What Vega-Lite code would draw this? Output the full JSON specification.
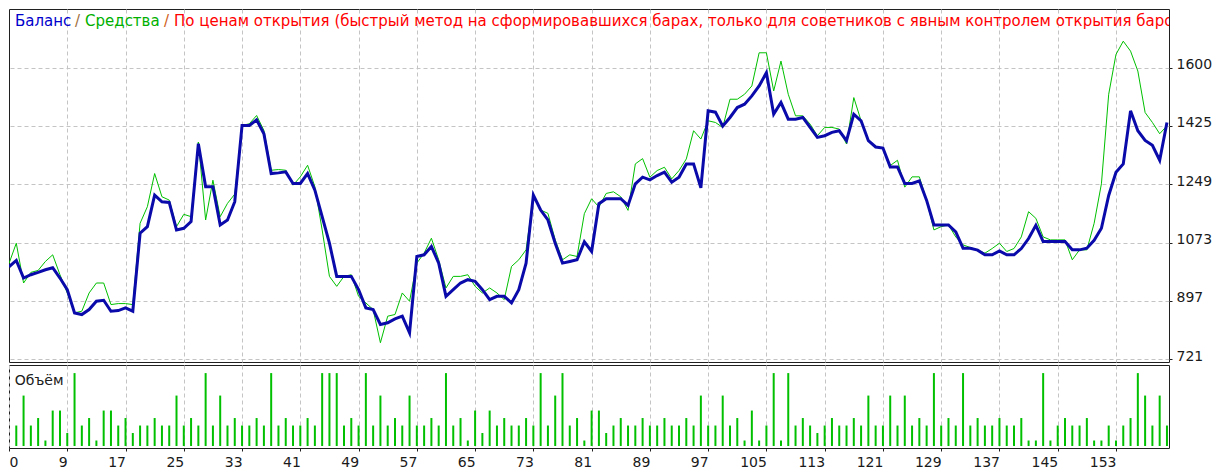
{
 "$schema": "https://vega.github.io/schema/vega-lite/v6.json",
 "background": "white",
 "padding": {"left": 8, "top": 8, "right": 0, "bottom": 0},
 "spacing": 3,
 "bounds": "flush",
 "config": {
  "font": "DejaVu Sans",
  "view": {"stroke": "#202020", "strokeWidth": 1}
 },
 "datasets": {
  "trades": [
   {"trade":1,"balance":1000,"equity":1010},
   {"trade":2,"balance":1019,"equity":1071,"volume":3},
   {"trade":3,"balance":966,"equity":951,"volume":7},
   {"trade":4,"balance":976,"equity":983,"volume":3},
   {"trade":5,"balance":983,"equity":989,"volume":4},
   {"trade":6,"balance":991,"equity":1016,"volume":1},
   {"trade":7,"balance":997,"equity":1036,"volume":5},
   {"trade":8,"balance":966,"equity":976,"volume":5},
   {"trade":9,"balance":931,"equity":921,"volume":2},
   {"trade":10,"balance":861,"equity":861,"volume":10},
   {"trade":11,"balance":856,"equity":866,"volume":3},
   {"trade":12,"balance":871,"equity":921,"volume":4},
   {"trade":13,"balance":896,"equity":951,"volume":1},
   {"trade":14,"balance":899,"equity":951,"volume":5},
   {"trade":15,"balance":866,"equity":886,"volume":5},
   {"trade":16,"balance":868,"equity":889,"volume":3},
   {"trade":17,"balance":876,"equity":889,"volume":4},
   {"trade":18,"balance":866,"equity":886,"volume":2},
   {"trade":19,"balance":1101,"equity":1131,"volume":3},
   {"trade":20,"balance":1121,"equity":1181,"volume":3},
   {"trade":21,"balance":1216,"equity":1281,"volume":4},
   {"trade":22,"balance":1196,"equity":1211,"volume":3},
   {"trade":23,"balance":1194,"equity":1201,"volume":3},
   {"trade":24,"balance":1111,"equity":1121,"volume":7},
   {"trade":25,"balance":1116,"equity":1158,"volume":3},
   {"trade":26,"balance":1136,"equity":1151,"volume":4},
   {"trade":27,"balance":1371,"equity":1376,"volume":3},
   {"trade":28,"balance":1241,"equity":1141,"volume":10},
   {"trade":29,"balance":1241,"equity":1261,"volume":3},
   {"trade":30,"balance":1126,"equity":1151,"volume":7},
   {"trade":31,"balance":1141,"equity":1191,"volume":3},
   {"trade":32,"balance":1196,"equity":1219,"volume":4},
   {"trade":33,"balance":1426,"equity":1426,"volume":3},
   {"trade":34,"balance":1426,"equity":1431,"volume":3},
   {"trade":35,"balance":1443,"equity":1456,"volume":4},
   {"trade":36,"balance":1401,"equity":1411,"volume":3},
   {"trade":37,"balance":1281,"equity":1291,"volume":10},
   {"trade":38,"balance":1283,"equity":1293,"volume":3},
   {"trade":39,"balance":1286,"equity":1291,"volume":4},
   {"trade":40,"balance":1251,"equity":1246,"volume":3},
   {"trade":41,"balance":1251,"equity":1271,"volume":3},
   {"trade":42,"balance":1281,"equity":1306,"volume":4},
   {"trade":43,"balance":1231,"equity":1241,"volume":3},
   {"trade":44,"balance":1151,"equity":1111,"volume":10},
   {"trade":45,"balance":1071,"equity":971,"volume":10},
   {"trade":46,"balance":971,"equity":941,"volume":10},
   {"trade":47,"balance":971,"equity":971,"volume":3},
   {"trade":48,"balance":971,"equity":976,"volume":4},
   {"trade":49,"balance":931,"equity":911,"volume":3},
   {"trade":50,"balance":876,"equity":891,"volume":10},
   {"trade":51,"balance":871,"equity":871,"volume":3},
   {"trade":52,"balance":826,"equity":771,"volume":7},
   {"trade":53,"balance":831,"equity":851,"volume":3},
   {"trade":54,"balance":843,"equity":856,"volume":4},
   {"trade":55,"balance":851,"equity":921,"volume":3},
   {"trade":56,"balance":801,"equity":896,"volume":7},
   {"trade":57,"balance":1031,"equity":1011,"volume":3},
   {"trade":58,"balance":1036,"equity":1041,"volume":3},
   {"trade":59,"balance":1061,"equity":1086,"volume":4},
   {"trade":60,"balance":1011,"equity":1021,"volume":3},
   {"trade":61,"balance":911,"equity":936,"volume":10},
   {"trade":62,"balance":931,"equity":971,"volume":3},
   {"trade":63,"balance":951,"equity":971,"volume":4},
   {"trade":64,"balance":961,"equity":976,"volume":1},
   {"trade":65,"balance":956,"equity":941,"volume":5},
   {"trade":66,"balance":931,"equity":921,"volume":2},
   {"trade":67,"balance":901,"equity":936,"volume":5},
   {"trade":68,"balance":911,"equity":921,"volume":3},
   {"trade":69,"balance":911,"equity":901,"volume":4},
   {"trade":70,"balance":891,"equity":1001,"volume":3},
   {"trade":71,"balance":931,"equity":1021,"volume":3},
   {"trade":72,"balance":1011,"equity":1051,"volume":4},
   {"trade":73,"balance":1216,"equity":1211,"volume":3},
   {"trade":74,"balance":1171,"equity":1171,"volume":10},
   {"trade":75,"balance":1141,"equity":1161,"volume":3},
   {"trade":76,"balance":1071,"equity":1081,"volume":7},
   {"trade":77,"balance":1011,"equity":1021,"volume":10},
   {"trade":78,"balance":1016,"equity":1036,"volume":3},
   {"trade":79,"balance":1021,"equity":1031,"volume":4},
   {"trade":80,"balance":1075,"equity":1160,"volume":1},
   {"trade":81,"balance":1046,"equity":1205,"volume":5},
   {"trade":82,"balance":1190,"equity":1180,"volume":5},
   {"trade":83,"balance":1205,"equity":1221,"volume":2},
   {"trade":84,"balance":1205,"equity":1226,"volume":3},
   {"trade":85,"balance":1205,"equity":1211,"volume":4},
   {"trade":86,"balance":1185,"equity":1170,"volume":3},
   {"trade":87,"balance":1250,"equity":1310,"volume":3},
   {"trade":88,"balance":1270,"equity":1326,"volume":4},
   {"trade":89,"balance":1262,"equity":1270,"volume":3},
   {"trade":90,"balance":1275,"equity":1290,"volume":3},
   {"trade":91,"balance":1285,"equity":1300,"volume":4},
   {"trade":92,"balance":1255,"equity":1265,"volume":3},
   {"trade":93,"balance":1270,"equity":1290,"volume":3},
   {"trade":94,"balance":1310,"equity":1325,"volume":4},
   {"trade":95,"balance":1310,"equity":1410,"volume":3},
   {"trade":96,"balance":1238,"equity":1385,"volume":7},
   {"trade":97,"balance":1470,"equity":1440,"volume":3},
   {"trade":98,"balance":1466,"equity":1435,"volume":3},
   {"trade":99,"balance":1424,"equity":1420,"volume":7},
   {"trade":100,"balance":1450,"equity":1505,"volume":3},
   {"trade":101,"balance":1480,"equity":1505,"volume":4},
   {"trade":102,"balance":1490,"equity":1520,"volume":1},
   {"trade":103,"balance":1515,"equity":1545,"volume":5},
   {"trade":104,"balance":1545,"equity":1645,"volume":1},
   {"trade":105,"balance":1585,"equity":1645,"volume":3},
   {"trade":106,"balance":1460,"equity":1530,"volume":10},
   {"trade":107,"balance":1495,"equity":1620,"volume":1},
   {"trade":108,"balance":1445,"equity":1520,"volume":10},
   {"trade":109,"balance":1445,"equity":1455,"volume":3},
   {"trade":110,"balance":1450,"equity":1455,"volume":4},
   {"trade":111,"balance":1420,"equity":1430,"volume":3},
   {"trade":112,"balance":1390,"equity":1395,"volume":2},
   {"trade":113,"balance":1395,"equity":1420,"volume":3},
   {"trade":114,"balance":1405,"equity":1420,"volume":4},
   {"trade":115,"balance":1410,"equity":1415,"volume":3},
   {"trade":116,"balance":1380,"equity":1370,"volume":3},
   {"trade":117,"balance":1460,"equity":1510,"volume":4},
   {"trade":118,"balance":1440,"equity":1440,"volume":3},
   {"trade":119,"balance":1380,"equity":1380,"volume":7},
   {"trade":120,"balance":1361,"equity":1361,"volume":3},
   {"trade":121,"balance":1358,"equity":1358,"volume":3},
   {"trade":122,"balance":1301,"equity":1305,"volume":7},
   {"trade":123,"balance":1301,"equity":1321,"volume":3},
   {"trade":124,"balance":1251,"equity":1240,"volume":7},
   {"trade":125,"balance":1251,"equity":1271,"volume":3},
   {"trade":126,"balance":1259,"equity":1271,"volume":4},
   {"trade":127,"balance":1200,"equity":1200,"volume":3},
   {"trade":128,"balance":1126,"equity":1111,"volume":10},
   {"trade":129,"balance":1126,"equity":1121,"volume":3},
   {"trade":130,"balance":1126,"equity":1126,"volume":4},
   {"trade":131,"balance":1105,"equity":1090,"volume":3},
   {"trade":132,"balance":1056,"equity":1066,"volume":10},
   {"trade":133,"balance":1056,"equity":1058,"volume":3},
   {"trade":134,"balance":1050,"equity":1050,"volume":4},
   {"trade":135,"balance":1036,"equity":1041,"volume":3},
   {"trade":136,"balance":1036,"equity":1055,"volume":3},
   {"trade":137,"balance":1048,"equity":1071,"volume":4},
   {"trade":138,"balance":1036,"equity":1046,"volume":3},
   {"trade":139,"balance":1036,"equity":1055,"volume":3},
   {"trade":140,"balance":1055,"equity":1090,"volume":4},
   {"trade":141,"balance":1085,"equity":1166,"volume":1},
   {"trade":142,"balance":1125,"equity":1146,"volume":1},
   {"trade":143,"balance":1076,"equity":1090,"volume":10},
   {"trade":144,"balance":1076,"equity":1081,"volume":1},
   {"trade":145,"balance":1076,"equity":1081,"volume":3},
   {"trade":146,"balance":1076,"equity":1081,"volume":4},
   {"trade":147,"balance":1051,"equity":1021,"volume":3},
   {"trade":148,"balance":1051,"equity":1051,"volume":3},
   {"trade":149,"balance":1056,"equity":1051,"volume":4},
   {"trade":150,"balance":1080,"equity":1131,"volume":1},
   {"trade":151,"balance":1116,"equity":1250,"volume":1},
   {"trade":152,"balance":1215,"equity":1520,"volume":3},
   {"trade":153,"balance":1285,"equity":1640,"volume":1},
   {"trade":154,"balance":1310,"equity":1680,"volume":3},
   {"trade":155,"balance":1470,"equity":1650,"volume":4},
   {"trade":156,"balance":1410,"equity":1590,"volume":10},
   {"trade":157,"balance":1381,"equity":1465,"volume":7},
   {"trade":158,"balance":1366,"equity":1435,"volume":3},
   {"trade":159,"balance":1321,"equity":1401,"volume":7},
   {"trade":160,"balance":1435,"equity":1425,"volume":3}
  ]
 },
 "vconcat": [
  {
   "width": 1160,
   "height": 353,
   "data": {"name": "trades"},
   "layer": [
    {
     "mark": {"type": "line", "color": "#00C000", "strokeWidth": 1, "clip": true},
     "encoding": {
      "x": {"field": "trade", "type": "quantitative",
            "scale": {"domain": [1, 160.28], "nice": false, "zero": false},
            "axis": {"values": [9,17,25,33,41,49,57,65,73,81,89,97,105,113,121,129,137,145,153],
                     "labels": false, "ticks": false, "domain": false, "grid": true,
                     "gridColor": "#c4c4c4", "gridDash": [4, 3], "title": null,
                     "minExtent": 0, "maxExtent": 0, "offset": 0, "labelPadding": 0, "tickSize": 0}},
      "y": {"field": "equity", "type": "quantitative",
            "scale": {"domain": [712.9, 1777], "nice": false, "zero": false},
            "axis": {"orient": "right", "values": [721, 897, 1073, 1249, 1425, 1600], "format": "d",
                     "grid": true, "gridColor": "#c4c4c4", "gridDash": [4, 3], "domain": false,
                     "tickSize": 3, "tickColor": "#202020", "labelPadding": 4,
                     "labelFontSize": 14, "labelColor": "#1a1a1a", "labelOffset": -3,
                     "labelFlush": false, "title": null}}
     }
    },
    {
     "mark": {"type": "line", "color": "#0A0AAA", "strokeWidth": 3, "clip": true},
     "encoding": {
      "x": {"field": "trade", "type": "quantitative"},
      "y": {"field": "balance", "type": "quantitative"}
     }
    },
    {
     "data": {"values": [{"t": "Баланс"}]},
     "mark": {"type": "text", "align": "left", "baseline": "middle", "fontSize": 15, "color": "#0000CC"},
     "encoding": {"x": {"datum": 1.82, "type": "quantitative"}, "y": {"datum": 1741, "type": "quantitative"}, "text": {"field": "t"}}
    },
    {
     "data": {"values": [{"t": "/"}]},
     "mark": {"type": "text", "align": "left", "baseline": "middle", "fontSize": 15, "color": "#A07040"},
     "encoding": {"x": {"datum": 10.06, "type": "quantitative"}, "y": {"datum": 1741, "type": "quantitative"}, "text": {"field": "t"}}
    },
    {
     "data": {"values": [{"t": "Средства"}]},
     "mark": {"type": "text", "align": "left", "baseline": "middle", "fontSize": 15, "color": "#00B000"},
     "encoding": {"x": {"datum": 11.44, "type": "quantitative"}, "y": {"datum": 1741, "type": "quantitative"}, "text": {"field": "t"}}
    },
    {
     "data": {"values": [{"t": "/"}]},
     "mark": {"type": "text", "align": "left", "baseline": "middle", "fontSize": 15, "color": "#D06020"},
     "encoding": {"x": {"datum": 22.28, "type": "quantitative"}, "y": {"datum": 1741, "type": "quantitative"}, "text": {"field": "t"}}
    },
    {
     "data": {"values": [{"t": "По ценам открытия (быстрый метод на сформировавшихся барах, только для советников с явным контролем открытия баров)"}]},
     "mark": {"type": "text", "align": "left", "baseline": "middle", "fontSize": 15, "color": "#FF0000", "clip": true},
     "encoding": {"x": {"datum": 23.66, "type": "quantitative"}, "y": {"datum": 1741, "type": "quantitative"}, "text": {"field": "t"}}
    }
   ]
  },
  {
   "width": 1160,
   "height": 83,
   "data": {"name": "trades"},
   "layer": [
    {
     "transform": [{"filter": "isValid(datum.volume)"}],
     "mark": {"type": "rule", "color": "#00C000", "strokeWidth": 2},
     "encoding": {
      "x": {"field": "trade", "type": "quantitative",
            "scale": {"domain": [1, 160.28], "nice": false, "zero": false},
            "axis": {"values": [1,9,17,25,33,41,49,57,65,73,81,89,97,105,113,121,129,137,145,153],
                     "grid": true, "gridColor": "#c4c4c4", "gridDash": [4, 3], "domain": false,
                     "tickSize": 3, "tickColor": "#202020",
                     "labelExpr": "datum.value == 1 ? '0' : datum.label",
                     "labelAlign": {"condition": {"test": "datum.value == 1", "value": "left"}, "value": "right"},
                     "labelPadding": 4, "labelBaseline": "top", "labelFontSize": 14, "labelColor": "#1a1a1a",
                     "labelFlush": false, "labelOverlap": false, "title": null}},
      "y": {"field": "volume", "type": "quantitative",
            "scale": {"domain": [0, 11.08], "nice": false, "zero": false}, "axis": null},
      "y2": {"datum": 0.27}
     }
    },
    {
     "data": {"values": [{"t": "Объём"}]},
     "mark": {"type": "text", "align": "left", "baseline": "middle", "fontSize": 14, "color": "#202020"},
     "encoding": {"x": {"datum": 1.8, "type": "quantitative"}, "y": {"datum": 9, "type": "quantitative"}, "text": {"field": "t"}}
    }
   ]
  }
 ]
}
